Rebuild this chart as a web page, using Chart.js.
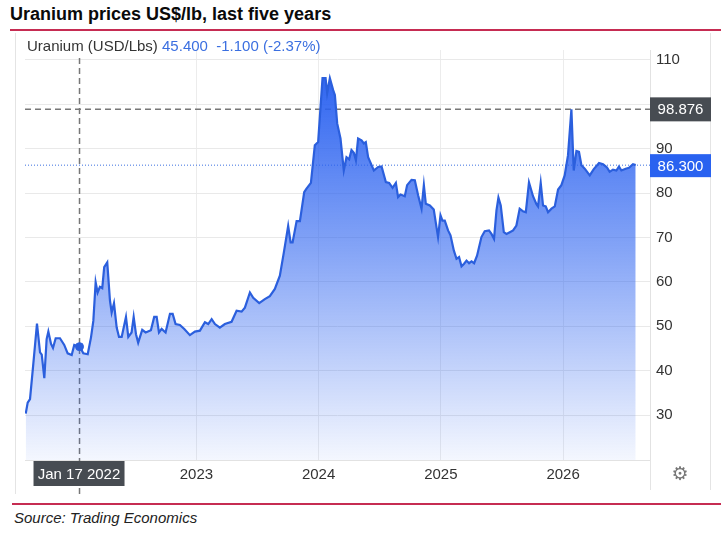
<!DOCTYPE html>
<html>
<head>
<meta charset="utf-8">
<title>Uranium prices</title>
<script src="https://cdn.jsdelivr.net/npm/chart.js@4.4.1/dist/chart.umd.min.js"></script>
<style>
  html, body { margin: 0; padding: 0; background: #fff; }
  body { width: 721px; height: 538px; position: relative; overflow: hidden; font-family: "Liberation Sans", Arial, sans-serif; }
  #title { position: absolute; left: 10px; top: 4px; font-weight: bold; font-size: 18px; color: #0a0a0a; white-space: nowrap; }
  .rule { position: absolute; left: 10px; right: 0; height: 2px; background: #c62c52; }
  #legend { position: absolute; left: 27px; top: 37px; font-size: 15px; color: #333; white-space: nowrap; }
  #legend .val { color: #3b6fe0; }
  #source { position: absolute; left: 14px; top: 509px; font-style: italic; font-size: 15px; color: #222; font-family: "Liberation Sans Narrow", "Liberation Sans", Arial, sans-serif; }
  #chartBox { position: absolute; left: 0; top: 0; width: 721px; height: 538px; }
</style>
</head>
<body>
<div id="title">Uranium prices US$/lb, last five years</div>
<div class="rule" style="top:29px"></div>
<div class="rule" style="top:503px; left:12px"></div>
<div id="source">Source: Trading Economics</div>
<div id="chartBox"><canvas id="myChart" width="721" height="538"></canvas></div>
<div id="legend">Uranium (USD/Lbs) <span class="val">45.400&nbsp;&nbsp;-1.100 (-2.37%)</span></div>
<script>
(() => {
  'use strict'

  // decimal years
  const years = [
    2021.604, 2021.620, 2021.639, 2021.666, 2021.696, 2021.721, 2021.735, 2021.756, 2021.775, 2021.789,
    2021.811, 2021.827, 2021.849, 2021.884, 2021.919, 2021.947, 2021.980, 2022.001, 2022.044, 2022.050,
    2022.075, 2022.111, 2022.138, 2022.157, 2022.176, 2022.192, 2022.211, 2022.230, 2022.246, 2022.271,
    2022.293, 2022.307, 2022.326, 2022.348, 2022.367, 2022.389, 2022.424, 2022.443, 2022.470, 2022.487,
    2022.506, 2022.524, 2022.557, 2022.585, 2022.628, 2022.655, 2022.675, 2022.694, 2022.716, 2022.748,
    2022.784, 2022.806, 2022.830, 2022.865, 2022.901, 2022.947, 2022.988, 2023.029, 2023.070, 2023.097,
    2023.125, 2023.152, 2023.192, 2023.233, 2023.288, 2023.329, 2023.370, 2023.397, 2023.438, 2023.465,
    2023.514, 2023.560, 2023.601, 2023.642, 2023.683, 2023.716, 2023.751, 2023.771, 2023.787, 2023.820,
    2023.847, 2023.882, 2023.901, 2023.937, 2023.969, 2023.996, 2024.032, 2024.057, 2024.070, 2024.092,
    2024.119, 2024.133, 2024.152, 2024.179, 2024.206, 2024.228, 2024.250, 2024.269, 2024.288, 2024.305,
    2024.323, 2024.351, 2024.370, 2024.386, 2024.405, 2024.452, 2024.487, 2024.515, 2024.550, 2024.577,
    2024.605, 2024.632, 2024.650, 2024.670, 2024.705, 2024.724, 2024.760, 2024.787, 2024.814, 2024.842,
    2024.861, 2024.877, 2024.910, 2024.942, 2024.977, 2024.997, 2025.013, 2025.032, 2025.059, 2025.079,
    2025.106, 2025.128, 2025.149, 2025.169, 2025.190, 2025.210, 2025.231, 2025.251, 2025.272, 2025.296,
    2025.332, 2025.359, 2025.394, 2025.414, 2025.435, 2025.455, 2025.471, 2025.490, 2025.515, 2025.537,
    2025.564, 2025.591, 2025.618, 2025.645, 2025.672, 2025.695, 2025.721, 2025.754, 2025.782, 2025.795,
    2025.817, 2025.836, 2025.858, 2025.877, 2025.905, 2025.932, 2025.959, 2025.986, 2026.013, 2026.040,
    2026.068, 2026.087, 2026.109, 2026.130, 2026.150, 2026.177, 2026.218, 2026.251, 2026.294, 2026.327,
    2026.359, 2026.381, 2026.408, 2026.436, 2026.457, 2026.477, 2026.512, 2026.539, 2026.572, 2026.594
  ]

  // USD/Lbs
  const prices = [
    30.3, 32.8, 33.6, 41.5, 50.6, 44.1, 43.6, 38.3, 47.1, 48.8,
    46.0, 45.1, 47.3, 47.3, 45.8, 43.9, 43.5, 45.8, 45.4, 45.2,
    43.9, 43.7, 47.5, 51.2, 59.9, 57.6, 58.9, 58.6, 63.3, 64.4,
    55.8, 53.1, 55.2, 49.7, 47.6, 47.6, 52.1, 47.6, 48.6, 52.1,
    48.2, 46.3, 49.2, 48.6, 49.1, 52.1, 52.1, 48.6, 49.4, 48.6,
    52.8, 52.8, 50.5, 50.3, 49.4, 48.0, 48.8, 49.0, 50.9, 50.5,
    51.6, 50.5, 49.7, 50.5, 51.0, 53.5, 53.3, 54.2, 57.6, 56.4,
    55.2, 56.1, 56.8, 58.4, 61.4, 66.7, 72.6, 68.9, 68.9, 73.7,
    73.7, 80.2, 81.0, 82.3, 90.8, 91.5, 105.9, 105.9, 102.5, 105.9,
    103.2, 102.1, 95.7, 92.3, 85.1, 88.1, 87.6, 89.7, 89.1, 87.4,
    92.3, 91.9, 91.2, 91.5, 88.1, 85.1, 85.9, 86.0, 82.5, 82.3,
    81.2, 82.3, 79.1, 79.7, 79.3, 81.8, 83.0, 82.9, 79.5, 76.5,
    81.8, 77.6, 77.2, 76.3, 70.1, 75.0, 73.8, 73.8, 71.6, 70.5,
    67.1, 65.2, 65.6, 63.5, 64.1, 64.8, 64.2, 64.6, 64.2, 65.9,
    70.1, 71.4, 71.6, 70.8, 69.7, 76.1, 79.0, 77.2, 71.2, 70.8,
    71.2, 71.6, 72.7, 76.5, 75.9, 75.7, 82.4, 79.3, 77.5, 77.0,
    82.3, 77.2, 77.0, 75.7, 76.5, 77.0, 80.8, 81.8, 84.0, 88.5,
    98.9, 85.1, 89.5, 89.3, 86.3, 85.5, 84.0, 85.4, 86.8, 86.5,
    85.8, 84.8, 85.3, 85.1, 86.0, 85.1, 85.5, 85.7, 86.5, 86.3
  ]

  const xTicks = [2023, 2024, 2025, 2026]
  const yTicks = [30, 40, 50, 60, 70, 80, 90, 100, 110]

  const cursorYear = 2022.044
  const cursorLabel = 'Jan 17 2022'
  const cursorPrice = 45.4
  const cursorLevel = 98.876
  const lastPrice = 86.3

  const lineColor = '#2b5fdd'
  const labelFont = '15px "Liberation Sans", Arial, sans-serif'

  const ctx = document.getElementById('myChart')

  function fillGradient(context) {
    const area = context.chart.chartArea
    if (!area) return null
    const g = context.chart.ctx.createLinearGradient(0, area.top + 25, 0, area.bottom)
    g.addColorStop(0, 'rgba(43, 98, 240, 0.98)')
    g.addColorStop(0.45, 'rgba(43, 98, 240, 0.58)')
    g.addColorStop(1, 'rgba(43, 98, 240, 0.05)')
    return g
  }

  function labelBox(c, text, x, y, w, h, bg) {
    c.fillStyle = bg
    c.fillRect(x, y, w, h)
    c.fillStyle = '#fff'
    c.font = labelFont
    c.textAlign = 'center'
    c.textBaseline = 'middle'
    c.fillText(text, x + w / 2, y + h / 2 + 1)
  }

  const decor = {
    id: 'decor',
    beforeDatasetsDraw(chart) {
      const c = chart.ctx
      const { left, right, top, bottom } = chart.chartArea
      const xs = chart.scales.x
      const ys = chart.scales.y
      c.save()
      // last price dotted line
      const yl = ys.getPixelForValue(lastPrice)
      c.strokeStyle = '#3b6fe0'
      c.lineWidth = 1
      c.setLineDash([1, 2])
      c.beginPath()
      c.moveTo(left, yl)
      c.lineTo(right, yl)
      c.stroke()
      // crosshair
      const xc = xs.getPixelForValue(cursorYear)
      const yc = ys.getPixelForValue(cursorLevel)
      c.strokeStyle = '#777'
      c.lineWidth = 1.5
      c.setLineDash([6, 4])
      c.beginPath()
      c.moveTo(left, yc)
      c.lineTo(right, yc)
      c.moveTo(xc, top + 8)
      c.lineTo(xc, bottom + 35)
      c.stroke()
      c.restore()
    },
    afterDraw(chart) {
      const c = chart.ctx
      const { right, top, bottom } = chart.chartArea
      const xs = chart.scales.x
      const ys = chart.scales.y
      c.save()
      // panel frame
      c.strokeStyle = '#e4e4e4'
      c.lineWidth = 1
      c.beginPath()
      c.moveTo(15.5, 33)
      c.lineTo(15.5, 494)
      c.moveTo(710.5, 33)
      c.lineTo(710.5, 490)
      c.moveTo(right + 0.5, bottom)
      c.lineTo(right + 0.5, 490)
      c.stroke()

      // value labels on the right axis
      const yc = ys.getPixelForValue(cursorLevel)
      labelBox(c, cursorLevel.toFixed(3), right, yc - 12, 61, 24, '#474c52')
      const yl = ys.getPixelForValue(lastPrice)
      labelBox(c, lastPrice.toFixed(3), right, yl - 11, 61, 23, '#2962f0')

      // date label
      const xc = xs.getPixelForValue(cursorYear)
      labelBox(c, cursorLabel, xc - 46, bottom + 1, 91, 25, '#474c52')

      // settings gear
      c.fillStyle = '#777'
      c.font = '19px "DejaVu Sans", sans-serif'
      c.textAlign = 'center'
      c.textBaseline = 'middle'
      c.fillText('\u2699', 680, 475)
      c.restore()
    }
  }

  new Chart(ctx, {
    type: 'line',
    data: {
      datasets: [
        {
          label: 'Cursor',
          data: [{ x: cursorYear, y: cursorPrice }],
          borderColor: lineColor,
          backgroundColor: lineColor,
          pointRadius: 4,
          showLine: false,
          order: 0
        },
        {
          label: 'Uranium',
          data: years.map((x, i) => ({ x, y: prices[i] })),
          borderColor: lineColor,
          borderWidth: 2.2,
          backgroundColor: fillGradient,
          fill: 'start',
          tension: 0,
          pointRadius: 0,
          order: 1
        }
      ]
    },
    options: {
      responsive: false,
      animation: false,
      events: [],
      layout: { padding: { left: 25, top: 50, right: 0, bottom: 0 } },
      plugins: {
        legend: { display: false },
        tooltip: { enabled: false }
      },
      scales: {
        x: {
          type: 'linear',
          min: 2021.598,
          max: 2026.711,
          afterBuildTicks: scale => { scale.ticks = xTicks.map(v => ({ value: v })) },
          afterFit: scale => { scale.height = 78 },
          grid: { color: '#ececec', drawTicks: false },
          border: { display: true, color: '#e2e2e2' },
          ticks: {
            padding: 6,
            color: '#333',
            font: { family: '"Liberation Sans", Arial, sans-serif', size: 15 },
            callback: v => String(v),
            maxRotation: 0
          }
        },
        y: {
          type: 'linear',
          position: 'right',
          min: 19.86,
          max: 112.25,
          afterBuildTicks: scale => { scale.ticks = yTicks.map(v => ({ value: v })) },
          afterFit: scale => { scale.width = 71 },
          grid: { color: '#e9e9e9', drawTicks: false },
          border: { display: true, color: '#e2e2e2' },
          ticks: {
            padding: 6,
            color: '#333',
            font: { family: '"Liberation Sans", Arial, sans-serif', size: 15 },
            callback: v => String(v)
          }
        }
      }
    },
    plugins: [decor]
  })
})()
</script>
</body>
</html>
